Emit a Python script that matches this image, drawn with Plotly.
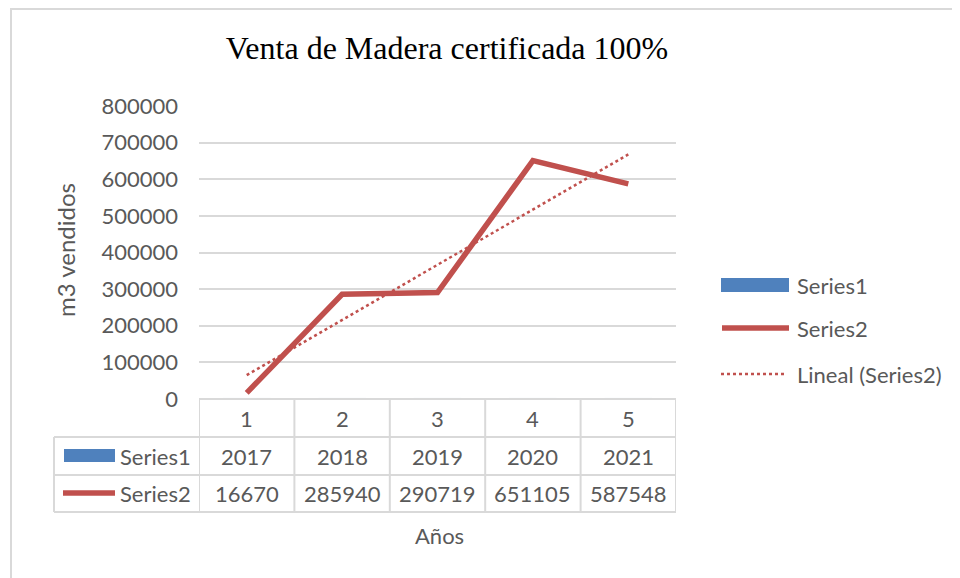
import numpy as np
import plotly.graph_objects as go

# ---- data ----
categories = [1, 2, 3, 4, 5]
series1 = [2017, 2018, 2019, 2020, 2021]
series2 = [16670, 285940, 290719, 651105, 587548]
series_names = ["Series1", "Series2"]
trend_name = "Lineal (Series2)"
y_ticks = [0, 100000, 200000, 300000, 400000, 500000, 600000, 700000, 800000]
title_text = "Venta de Madera certificada 100%"
x_title = "Años"
y_title = "m3 vendidos"

# ---- geometry (page pixels; the figure sits at an 8px page offset) ----
OFF = 8
W, H = 960 - OFF, 578 - OFF
L, R, T, B = 199, 676, 106, 399   # plot area box in page px
PW, PH = R - L, B - T

def px(x):
    return (x - L) / PW

def py(y):
    return (B - y) / PH

BLUE = "#4F81BD"
RED = "#C0504D"
GRID = "#D9D9D9"
TXT = "#595959"
FONT = "Lato"
FS = 22

# linear trendline (least squares on the series)
coef = np.polyfit(categories, series2, 1)
trend_y = np.polyval(coef, categories)

fig = go.Figure()
fig.add_trace(go.Bar(x=categories, y=series1, name=series_names[0],
                     marker_color=BLUE, width=0.5, showlegend=False))
fig.add_trace(go.Scatter(x=categories, y=series2, name=series_names[1], mode="lines",
                         line=dict(color=RED, width=5.5), showlegend=False))
fig.add_trace(go.Scatter(x=categories, y=trend_y, name=trend_name, mode="lines",
                         line=dict(color=RED, width=2.5, dash="dot"), showlegend=False))

shapes = []
ann = []

# outer chart border
shapes.append(dict(type="rect", xref="paper", yref="paper",
                   x0=px(11), x1=px(990), y0=py(600), y1=py(9),
                   line=dict(color=GRID, width=2), layer="below"))

# ---- data table ----
rows_y = [399, 437, 475, 512]
tl = dict(color=GRID, width=2)
shapes.append(dict(type="line", xref="paper", yref="paper", x0=px(L), x1=px(R),
                   y0=py(rows_y[0]), y1=py(rows_y[0]), line=tl))
for ry in rows_y[1:]:
    shapes.append(dict(type="line", xref="paper", yref="paper", x0=px(54), x1=px(R),
                       y0=py(ry), y1=py(ry), line=tl))
shapes.append(dict(type="line", xref="paper", yref="paper", x0=px(54), x1=px(54),
                   y0=py(rows_y[1]), y1=py(rows_y[3]), line=tl))
for k in range(len(categories) + 1):
    xb = categories[0] - 0.5 + k
    shapes.append(dict(type="line", xref="x", yref="paper", x0=xb, x1=xb,
                       y0=py(rows_y[0]), y1=py(rows_y[3]), line=tl))

fnt = dict(family=FONT, size=FS, color=TXT)
row_centers = [(rows_y[i] + rows_y[i + 1]) / 2 for i in range(3)]
for c, v1, v2 in zip(categories, series1, series2):
    for txt, rc in ((str(c), row_centers[0]), (str(v1), row_centers[1]),
                    (str(v2), row_centers[2])):
        ann.append(dict(x=c, y=py(rc), xref="x", yref="paper", text=txt,
                        showarrow=False, font=fnt, xanchor="center", yanchor="middle"))

# table row header keys
shapes.append(dict(type="rect", xref="paper", yref="paper", x0=px(64), x1=px(115),
                   y0=py(462), y1=py(449), fillcolor=BLUE, line=dict(width=0)))
shapes.append(dict(type="line", xref="paper", yref="paper", x0=px(63), x1=px(115),
                   y0=py(493), y1=py(493), line=dict(color=RED, width=5.5)))
ann.append(dict(x=px(118), y=py(row_centers[1]), xref="paper", yref="paper",
                text=series_names[0], showarrow=False, font=fnt,
                xanchor="left", yanchor="middle"))
ann.append(dict(x=px(118), y=py(row_centers[2]), xref="paper", yref="paper",
                text=series_names[1], showarrow=False, font=fnt,
                xanchor="left", yanchor="middle"))

# ---- legend (manual) ----
shapes.append(dict(type="rect", xref="paper", yref="paper", x0=px(721), x1=px(789),
                   y0=py(292), y1=py(278), fillcolor=BLUE, line=dict(width=0)))
shapes.append(dict(type="line", xref="paper", yref="paper", x0=px(722), x1=px(789),
                   y0=py(328), y1=py(328), line=dict(color=RED, width=5.5)))
shapes.append(dict(type="line", xref="paper", yref="paper", x0=px(721), x1=px(785),
                   y0=py(374), y1=py(374), line=dict(color=RED, width=2.5, dash="dot")))
for name, yy in zip(series_names + [trend_name], [285, 328, 374]):
    ann.append(dict(x=px(795), y=py(yy), xref="paper", yref="paper", text=name,
                    showarrow=False, font=fnt, xanchor="left", yanchor="middle"))

# axis titles
ann.append(dict(x=px(439), y=py(535), xref="paper", yref="paper", text=x_title,
                showarrow=False, font=fnt, xanchor="center", yanchor="middle"))
ann.append(dict(x=px(65), y=py(250), xref="paper", yref="paper", text=y_title,
                showarrow=False, font=dict(family=FONT, size=24, color=TXT),
                textangle=-90, xanchor="center", yanchor="middle"))

fig.update_layout(
    width=W, height=H,
    margin=dict(l=L - OFF, r=W - (R - OFF), t=T - OFF, b=H - (B - OFF), pad=0),
    paper_bgcolor="white", plot_bgcolor="white",
    title=dict(text=title_text, x=px(447), xref="paper", xanchor="center",
               y=1 - (47.5 - OFF) / H, yanchor="middle",
               font=dict(family="Liberation Serif", size=32, color="black")),
    xaxis=dict(range=[categories[0] - 0.5, categories[-1] + 0.5], showticklabels=False,
               showgrid=False, zeroline=False, showline=False, ticks=""),
    yaxis=dict(range=[0, 800000], tickvals=y_ticks, tickformat="d",
               showgrid=True, gridcolor=GRID,
               gridwidth=2, zeroline=False, showline=False, ticks="",
               tickfont=dict(family=FONT, size=FS, color=TXT),
               ticklabelstandoff=20),
    shapes=shapes, annotations=ann, showlegend=False,
)

fig.write_html("out.html")
